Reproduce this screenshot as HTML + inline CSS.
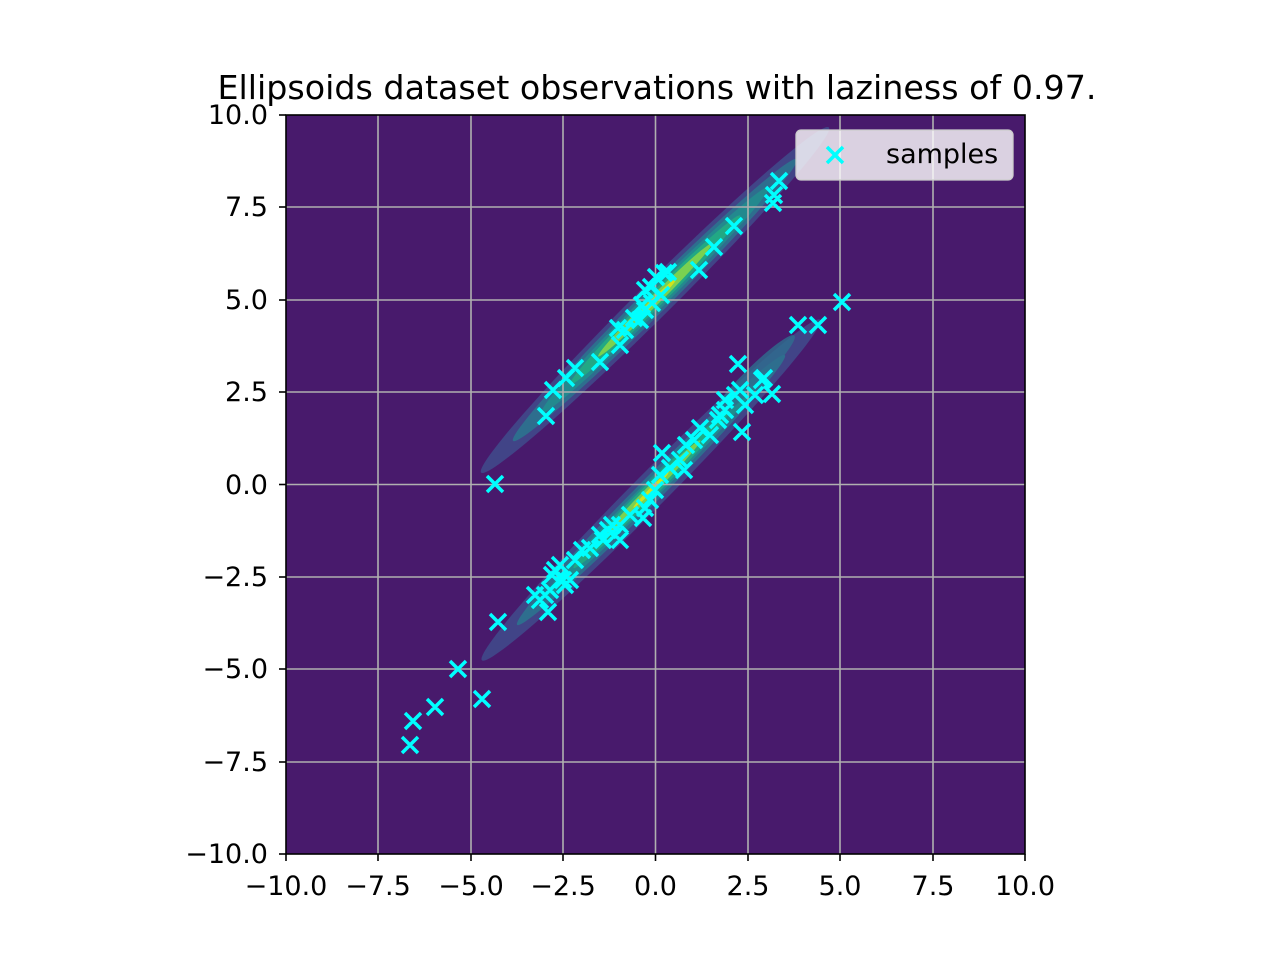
<!DOCTYPE html>
<html><head><meta charset="utf-8"><style>body{margin:0;background:#fff}svg{display:block}text{font-family:"DejaVu Sans","Liberation Sans",sans-serif}</style></head><body>
<svg width="1280" height="960" viewBox="0 0 1280 960" xmlns="http://www.w3.org/2000/svg">
<rect width="1280" height="960" fill="#fff"/>
<text x="657" y="99" font-size="33" text-anchor="middle" fill="#000" textLength="879" lengthAdjust="spacingAndGlyphs">Ellipsoids dataset observations with laziness of 0.97.</text>
<clipPath id="c"><rect x="286" y="115" width="739" height="739"/></clipPath>
<rect x="286" y="115" width="739" height="739" fill="#481a6c"/>
<g clip-path="url(#c)">
<g transform="translate(655,300) rotate(-44.8)">
<ellipse rx="245" ry="17" fill="#414487"/>
<ellipse rx="200" ry="13" fill="#2e6e8e"/>
<ellipse rx="160" ry="10" fill="#23898e"/>
<ellipse rx="120" ry="7.5" fill="#22a884"/>
<ellipse rx="80" ry="5" fill="#7ad151"/>
<ellipse rx="30" ry="2.5" fill="#d2e21b"/>
</g>
<g transform="translate(651,490) rotate(-45.2)">
<ellipse rx="240" ry="17" fill="#414487"/>
<ellipse rx="190" ry="12" fill="#2e6e8e"/>
<ellipse rx="150" ry="9" fill="#23898e"/>
<ellipse rx="110" ry="7" fill="#22a884"/>
<ellipse rx="70" ry="4.5" fill="#7ad151"/>
<ellipse rx="25" ry="2" fill="#d2e21b"/>
</g>
<g transform="translate(752,378) rotate(-45)"><ellipse rx="60" ry="9" fill="#2e6e8e" opacity="0.8"/></g>
</g>
<g stroke="#b0b0b0" stroke-width="1.6">
<line x1="378" y1="115" x2="378" y2="854"/><line x1="471" y1="115" x2="471" y2="854"/><line x1="563" y1="115" x2="563" y2="854"/><line x1="655.5" y1="115" x2="655.5" y2="854"/><line x1="748" y1="115" x2="748" y2="854"/><line x1="840" y1="115" x2="840" y2="854"/><line x1="933" y1="115" x2="933" y2="854"/>
<line x1="286" y1="207" x2="1025" y2="207"/><line x1="286" y1="300" x2="1025" y2="300"/><line x1="286" y1="392" x2="1025" y2="392"/><line x1="286" y1="484.5" x2="1025" y2="484.5"/><line x1="286" y1="577" x2="1025" y2="577"/><line x1="286" y1="669" x2="1025" y2="669"/><line x1="286" y1="762" x2="1025" y2="762"/>
</g>
<g stroke="#00ffff" stroke-width="3.5" fill="none">
<path id="pts" d=""/>
</g>
<rect x="286" y="115" width="739" height="739" fill="none" stroke="#000" stroke-width="1.6"/>
<g stroke="#000" stroke-width="1.6">
<line x1="286" y1="854" x2="286" y2="861"/><line x1="378" y1="854" x2="378" y2="861"/><line x1="471" y1="854" x2="471" y2="861"/><line x1="563" y1="854" x2="563" y2="861"/><line x1="655.5" y1="854" x2="655.5" y2="861"/><line x1="748" y1="854" x2="748" y2="861"/><line x1="840" y1="854" x2="840" y2="861"/><line x1="933" y1="854" x2="933" y2="861"/><line x1="1025" y1="854" x2="1025" y2="861"/>
<line x1="279" y1="115" x2="286" y2="115"/><line x1="279" y1="207" x2="286" y2="207"/><line x1="279" y1="300" x2="286" y2="300"/><line x1="279" y1="392" x2="286" y2="392"/><line x1="279" y1="484.5" x2="286" y2="484.5"/><line x1="279" y1="577" x2="286" y2="577"/><line x1="279" y1="669" x2="286" y2="669"/><line x1="279" y1="762" x2="286" y2="762"/><line x1="279" y1="854" x2="286" y2="854"/>
</g>
<g font-size="27" fill="#000" text-anchor="middle">
<text x="286" y="895">−10.0</text><text x="378" y="895">−7.5</text><text x="471" y="895">−5.0</text><text x="563" y="895">−2.5</text><text x="655.5" y="895">0.0</text><text x="748" y="895">2.5</text><text x="840" y="895">5.0</text><text x="933" y="895">7.5</text><text x="1025" y="895">10.0</text>
</g>
<g font-size="27" fill="#000" text-anchor="end">
<text x="268" y="124">10.0</text><text x="268" y="216">7.5</text><text x="268" y="309">5.0</text><text x="268" y="401">2.5</text><text x="268" y="494">0.0</text><text x="268" y="586">−2.5</text><text x="268" y="678">−5.0</text><text x="268" y="771">−7.5</text><text x="268" y="863">−10.0</text>
</g>
<rect x="796" y="130" width="217" height="50" rx="5" fill="#fff" fill-opacity="0.8" stroke="#ccc" stroke-width="1.3"/>
<g stroke="#00ffff" stroke-width="3.5"><path d="M827,147l16,16M843,147l-16,16"/></g>
<text x="886" y="163" font-size="27" fill="#000">samples</text>
<script>
var p=[[779,181],[774,195],[773,203],[734,226],[714,247],[699,270],[664,273],[668,272],[656,277],[652,303],[661,295],[645,310],[640,320],[634,318],[625,330],[618,328],[620,345],[600,362],[575,368],[566,378],[553,390],[546,416],[495,484],[642,305],[645,290],[651,287],
[842,302],[798,325],[818,325],[738,364],[762,380],[764,378],[772,394],[735,395],[745,405],[742,432],[720,415],[725,410],[718,420],[710,435],[700,428],[694,440],[686,445],[680,460],[684,470],[662,453],[670,468],[660,475],[655,490],[650,500],[645,508],[643,518],[630,515],[620,525],[615,535],[608,530],[603,540],[600,535],[590,548],[582,550],[575,560],[570,580],[560,565],[555,570],[552,575],[550,590],[545,595],[540,600],[535,595],[548,612],[498,622],[458,669],[482,699],[435,707],[413,721],[410,745],[565,585],[563,580],[620,540],[612,525],[725,400],[740,390],[755,395]];
var d="";p.forEach(function(a){d+="M"+(a[0]-8)+","+(a[1]-8)+"l16,16M"+(a[0]+8)+","+(a[1]-8)+"l-16,16";});
document.getElementById("pts").setAttribute("d",d);
</script>
</svg>
</body></html>
